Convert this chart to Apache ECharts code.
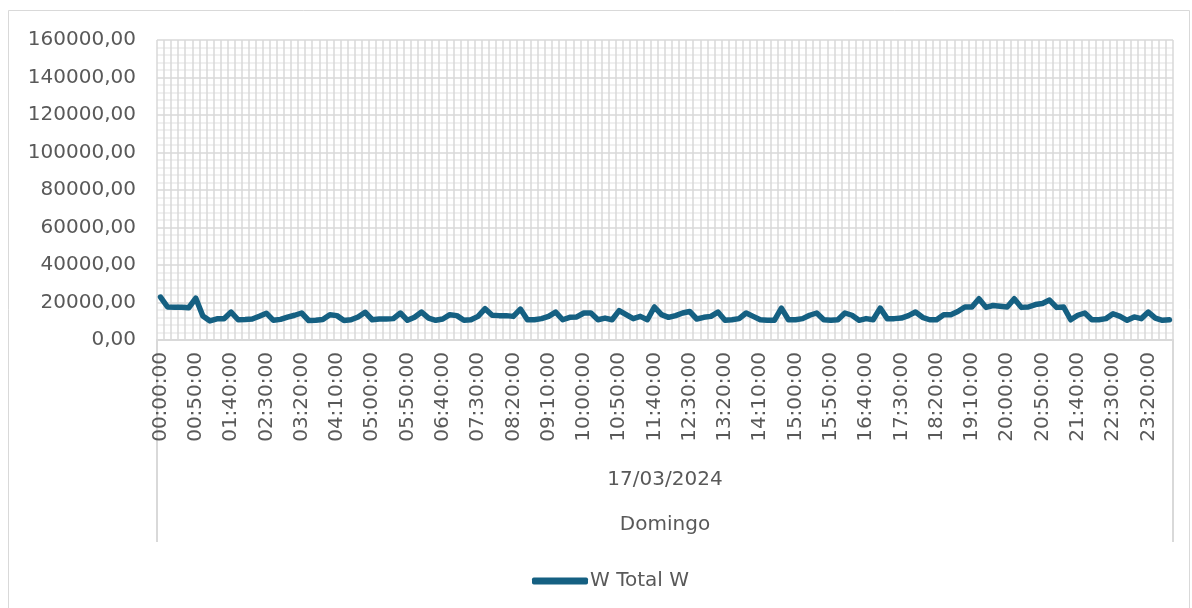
<!DOCTYPE html>
<html>
<head>
<meta charset="utf-8">
<script src="https://cdn.jsdelivr.net/npm/echarts@6/dist/echarts.min.js"></script>
<style>
  html, body { margin: 0; padding: 0; background: #ffffff; }
  #chart { width: 1192px; height: 608px; }
</style>
</head>
<body>
<div id="chart"></div>
<script>
// Total active power, one reading every 10 minutes (W)
const powerW = [
  22900, 17600, 17500, 17500, 17200, 22300, 12800, 10200, 11300, 11300,
  14900, 10800, 10900, 11200, 12700, 14300, 10500, 11000, 12200, 13200,
  14400, 10400, 10500, 10900, 13500, 13000, 10400, 10800, 12300, 14800,
  10800, 11200, 11200, 11400, 14400, 10500, 12100, 14900, 11700, 10500,
  11200, 13500, 13000, 10500, 10800, 12600, 16700, 13200, 13000, 13000,
  12600, 16500, 10800, 10800, 11400, 12600, 14900, 10800, 12100, 12300,
  14400, 14400, 10800, 11700, 10800, 15700, 13500, 11400, 12600, 10800,
  17600, 13500, 12100, 13000, 14400, 15200, 11200, 12100, 12600, 14900,
  10500, 10800, 11400, 14400, 12600, 10800, 10500, 10500, 17000, 10800,
  10800, 11400, 13200, 14400, 10800, 10500, 10800, 14400, 13200, 10500,
  11400, 10800, 17000, 11400, 11400, 11700, 13000, 14900, 12100, 10800,
  10800, 13500, 13500, 15200, 17600, 17600, 22000, 17400, 18400, 18000,
  17600, 22000, 17400, 17600, 18900, 19500, 21300, 17400, 17600, 10800,
  13200, 14400, 10800, 10800, 11400, 14000, 12600, 10500, 12300, 11400,
  14900, 11700, 10500, 10800
];

// Time of day for each reading (10-minute steps)
const timeLabels = [];
for (let m = 0; m < 24 * 60; m += 10) {
  const hh = String(Math.floor(m / 60)).padStart(2, '0');
  const mm = String(m % 60).padStart(2, '0');
  timeLabels.push(hh + ':' + mm + ':00');
}

const dateLabels = ['17/03/2024'];
const dayLabels = ['Domingo'];
const seriesName = 'W Total W';

const yMin = 0, yMax = 160000, yStep = 20000;

const FONT = '"DejaVu Sans", sans-serif';
const TEXT = '#595959';
const GRID = '#d9d9d9';
const LINE = '#156082';

const chart = echarts.init(document.getElementById('chart'), null, { renderer: 'canvas' });

chart.setOption({
  backgroundColor: '#ffffff',
  animation: false,
  textStyle: { fontFamily: FONT },
  graphic: [{
    type: 'rect',
    shape: { x: 8.5, y: 10.5, width: 1181, height: 700 },
    style: { fill: null, stroke: GRID, lineWidth: 1 },
    silent: true,
    z: -10
  }],
  grid: { left: 157, right: 19, top: 40, bottom: 268, containLabel: false },
  legend: {
    data: [seriesName],
    left: 527,
    top: 566,
    icon: 'roundRect',
    itemWidth: 56,
    itemHeight: 7,
    textStyle: { fontFamily: FONT, fontSize: 20, color: TEXT, padding: [0, 0, 0, -3] }
  },
  xAxis: [
    {
      type: 'category',
      data: timeLabels,
      boundaryGap: true,
      axisLine: { show: true, lineStyle: { color: GRID, width: 2 } },
      axisTick: { show: false },
      axisLabel: {
        interval: 4,
        rotate: 90,
        margin: 12,
        fontFamily: FONT,
        fontSize: 20,
        color: TEXT
      },
      splitLine: { show: true, interval: 0, lineStyle: { color: GRID, width: 1.5 } }
    },
    {
      type: 'category',
      data: dateLabels,
      position: 'bottom',
      boundaryGap: true,
      axisLine: { show: false },
      axisTick: { show: true, length: 202, lineStyle: { color: GRID, width: 2 } },
      axisLabel: { margin: 130, fontFamily: FONT, fontSize: 20, color: TEXT },
      splitLine: { show: false }
    },
    {
      type: 'category',
      data: dayLabels,
      position: 'bottom',
      boundaryGap: true,
      axisLine: { show: false },
      axisTick: { show: false },
      axisLabel: { margin: 175, fontFamily: FONT, fontSize: 20, color: TEXT },
      splitLine: { show: false }
    }
  ],
  yAxis: {
    type: 'value',
    min: yMin,
    max: yMax,
    interval: yStep,
    axisLine: { show: false },
    axisTick: { show: false },
    axisLabel: {
      margin: 21,
      fontFamily: FONT,
      fontSize: 20,
      color: TEXT,
      formatter: v => v.toFixed(2).replace('.', ',')
    },
    splitLine: { show: true, lineStyle: { color: GRID, width: 1.5 } },
    minorTick: { show: false, splitNumber: 5 },
    minorSplitLine: { show: true, lineStyle: { color: '#ececec', width: 1.5 } }
  },
  series: [{
    name: seriesName,
    type: 'line',
    xAxisIndex: 0,
    data: powerW,
    showSymbol: false,
    symbol: 'none',
    lineStyle: { color: LINE, width: 5.5, join: 'round', cap: 'round' },
    itemStyle: { color: LINE }
  }]
});
</script>
</body>
</html>
